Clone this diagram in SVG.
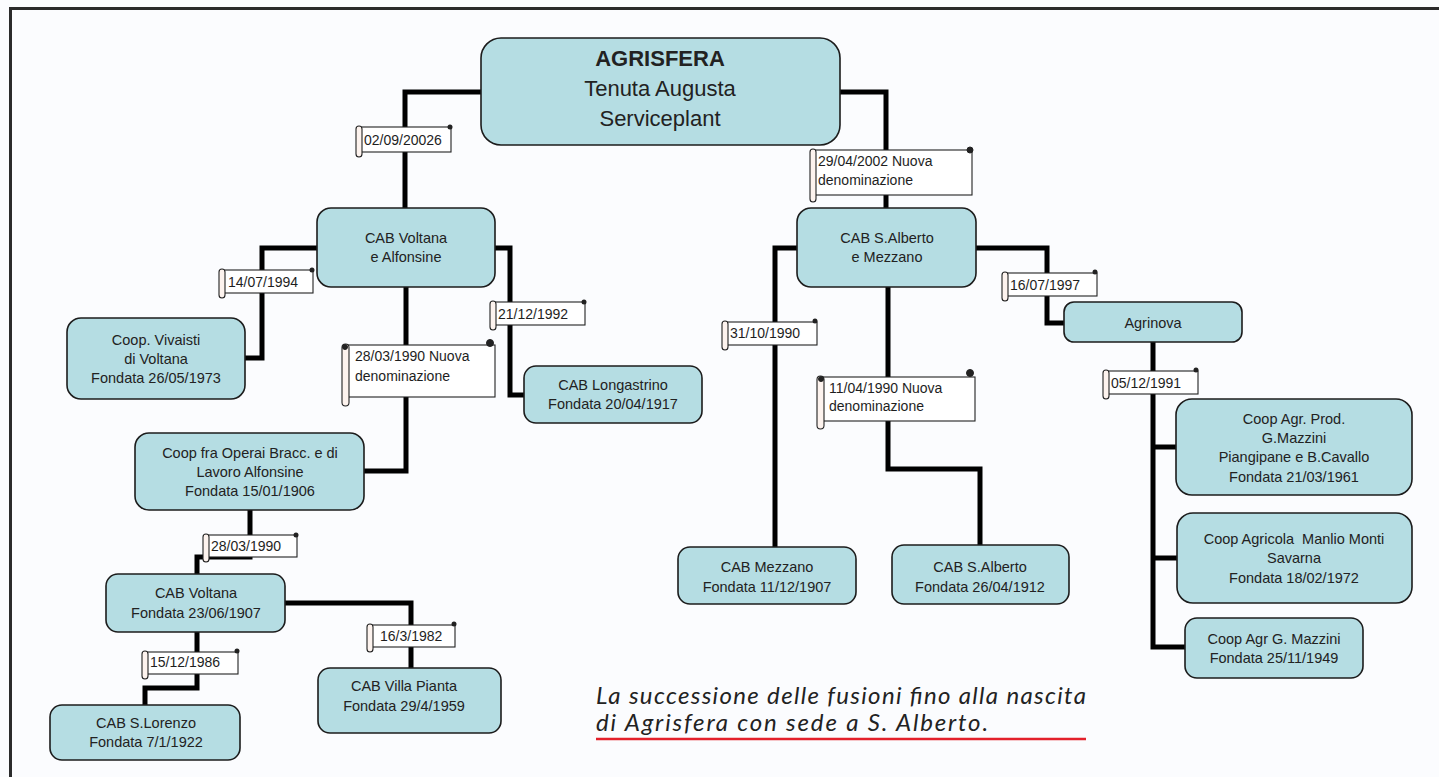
<svg xmlns="http://www.w3.org/2000/svg" width="1439" height="777" viewBox="0 0 1439 777">
<style>
.bg{fill:#fbfcfe}
.frame{stroke:#2b2b2b;stroke-width:3;fill:none}
.node rect{fill:#b5dde3;stroke:#1c1c1c;stroke-width:1.6}
.node text{font-family:"Liberation Sans",Arial,sans-serif;font-size:14.5px;fill:#222;text-anchor:middle}
.big text{font-size:22px}
.conn path{fill:none;stroke:#000;stroke-width:5;stroke-linejoin:miter;stroke-linecap:butt}
.lbl rect.b{fill:#fff;stroke:#222;stroke-width:1.1}
.lbl rect.r{fill:#fdf3ee;stroke:#222;stroke-width:1.1}
.lbl circle{fill:#222}
.lbl text{font-family:"Liberation Sans",Arial,sans-serif;font-size:14px;fill:#1e1e1e}
.cap{font-family:Lato,"Open Sans",sans-serif;font-style:italic;font-size:24px;fill:#222}
</style>
<rect class="bg" x="0" y="0" width="1439" height="777"/>
<path class="frame" d="M10.5,777 V8.5 H1439"/>

<g id="connectors" class="conn">
<path d="M481,92 H405 V208"/>
<path d="M840,92 H886 V208"/>
<path d="M317,248 H262 V358 H245"/>
<path d="M495,248 H510 V395 H524"/>
<path d="M406,287 V471 H364"/>
<path d="M250,510 V557 H197 V574"/>
<path d="M285,603 H411 V668"/>
<path d="M197,632 V688 H145 V705"/>
<path d="M797,248 H775 V547"/>
<path d="M888,287 V469 H980 V545"/>
<path d="M976,248 H1047 V323 H1064"/>
<path d="M1153,342 V647 H1185"/>
<path d="M1153,447 H1176"/>
<path d="M1153,558 H1177"/>
</g>

<g id="labels" class="lbl">
<g id="l1"><rect class="b" x="361" y="127" width="90" height="25"/><rect class="r" x="356" y="126" width="6" height="31" rx="3"/><circle cx="450" cy="127" r="2.5"/><text x="364" y="145">02/09/20026</text></g>
<g id="l2"><rect class="b" x="815" y="150" width="157" height="45"/><rect class="r" x="810" y="149" width="6" height="53" rx="3"/><circle cx="970" cy="150" r="3" fill="none" stroke="#222"/><text x="818" y="166">29/04/2002 Nuova</text><text x="818" y="185">denominazione</text></g>
<g id="l3"><rect class="b" x="224" y="270" width="89" height="23"/><rect class="r" x="219" y="269" width="6" height="29" rx="3"/><circle cx="312" cy="270" r="2.5"/><text x="228" y="287">14/07/1994</text></g>
<g id="l4"><rect class="b" x="495" y="302" width="90" height="23"/><rect class="r" x="490" y="301" width="6" height="29" rx="3"/><circle cx="584" cy="302" r="2.5"/><text x="498" y="319">21/12/1992</text></g>
<g id="l5"><rect class="b" x="347" y="345" width="148" height="52"/><rect class="r" x="342" y="344" width="7" height="62" rx="3.5"/><circle cx="490" cy="343" r="3.5" fill="none" stroke="#222"/><circle cx="345" cy="347" r="2.5" fill="none" stroke="#222"/><text x="355" y="361">28/03/1990 Nuova</text><text x="355" y="381">denominazione</text></g>
<g id="l6"><rect class="b" x="208" y="535" width="89" height="22"/><rect class="r" x="203" y="534" width="6" height="28" rx="3"/><circle cx="296" cy="535" r="2.5"/><text x="211" y="551">28/03/1990</text></g>
<g id="l7"><rect class="b" x="372" y="625" width="83" height="22"/><rect class="r" x="367" y="624" width="6" height="28" rx="3"/><circle cx="454" cy="624" r="2.5"/><text x="380" y="641">16/3/1982</text></g>
<g id="l8"><rect class="b" x="147" y="652" width="91" height="22"/><rect class="r" x="142" y="651" width="6" height="28" rx="3"/><circle cx="237" cy="651" r="2.5"/><text x="150" y="667">15/12/1986</text></g>
<g id="l9"><rect class="b" x="727" y="322" width="90" height="23"/><rect class="r" x="722" y="321" width="6" height="29" rx="3"/><circle cx="815" cy="321" r="2.5"/><text x="730" y="338">31/10/1990</text></g>
<g id="l10"><rect class="b" x="822" y="377" width="153" height="44"/><rect class="r" x="817" y="376" width="7" height="53" rx="3.5"/><circle cx="970" cy="373" r="3.5" fill="none" stroke="#222"/><circle cx="821" cy="379" r="2.5" fill="none" stroke="#222"/><text x="829" y="393">11/04/1990 Nuova</text><text x="829" y="411">denominazione</text></g>
<g id="l11"><rect class="b" x="1007" y="273" width="90" height="23"/><rect class="r" x="1002" y="272" width="6" height="29" rx="3"/><circle cx="1095" cy="272" r="2.5"/><text x="1010" y="290">16/07/1997</text></g>
<g id="l12"><rect class="b" x="1108" y="371" width="90" height="23"/><rect class="r" x="1103" y="370" width="6" height="29" rx="3"/><circle cx="1196" cy="370" r="2.5"/><text x="1111" y="388">05/12/1991</text></g>
</g>

<g id="n0" class="node big"><rect x="481" y="38" width="359" height="107" rx="20"/><text x="660" y="66" font-weight="bold">AGRISFERA</text><text x="660" y="96">Tenuta Augusta</text><text x="660" y="126">Serviceplant</text></g>
<g id="n1" class="node"><rect x="317" y="208" width="178" height="79" rx="14"/><text x="406" y="243">CAB Voltana</text><text x="406" y="262">e Alfonsine</text></g>
<g id="n2" class="node"><rect x="67" y="318" width="178" height="81" rx="14"/><text x="156" y="345">Coop. Vivaisti</text><text x="156" y="364">di Voltana</text><text x="156" y="383">Fondata 26/05/1973</text></g>
<g id="n3" class="node"><rect x="524" y="366" width="178" height="57" rx="12"/><text x="613" y="390">CAB Longastrino</text><text x="613" y="409">Fondata 20/04/1917</text></g>
<g id="n4" class="node"><rect x="135" y="433" width="229" height="77" rx="14"/><text x="250" y="458">Coop fra Operai Bracc. e di</text><text x="250" y="477">Lavoro Alfonsine</text><text x="250" y="496">Fondata 15/01/1906</text></g>
<g id="n5" class="node"><rect x="106" y="574" width="179" height="58" rx="12"/><text x="196" y="598">CAB Voltana</text><text x="196" y="618">Fondata 23/06/1907</text></g>
<g id="n6" class="node"><rect x="318" y="668" width="183" height="65" rx="12"/><text x="404" y="691">CAB Villa Pianta</text><text x="404" y="711">Fondata 29/4/1959</text></g>
<g id="n7" class="node"><rect x="50" y="705" width="190" height="55" rx="12"/><text x="146" y="728">CAB S.Lorenzo</text><text x="146" y="747">Fondata 7/1/1922</text></g>
<g id="n8" class="node"><rect x="797" y="208" width="179" height="79" rx="14"/><text x="887" y="243">CAB S.Alberto</text><text x="887" y="262">e Mezzano</text></g>
<g id="n9" class="node"><rect x="678" y="547" width="178" height="57" rx="12"/><text x="767" y="572">CAB Mezzano</text><text x="767" y="592">Fondata 11/12/1907</text></g>
<g id="n10" class="node"><rect x="892" y="545" width="177" height="59" rx="12"/><text x="980" y="572">CAB S.Alberto</text><text x="980" y="592">Fondata 26/04/1912</text></g>
<g id="n11" class="node"><rect x="1064" y="302" width="178" height="40" rx="10"/><text x="1153" y="328">Agrinova</text></g>
<g id="n12" class="node"><rect x="1176" y="399" width="236" height="96" rx="16"/><text x="1294" y="424">Coop Agr. Prod.</text><text x="1294" y="443">G.Mazzini</text><text x="1294" y="462">Piangipane e B.Cavallo</text><text x="1294" y="482">Fondata 21/03/1961</text></g>
<g id="n13" class="node"><rect x="1177" y="513" width="235" height="90" rx="16"/><text x="1294" y="544" style="white-space:pre">Coop Agricola  Manlio Monti</text><text x="1294" y="563">Savarna</text><text x="1294" y="583">Fondata 18/02/1972</text></g>
<g id="n14" class="node"><rect x="1185" y="618" width="178" height="60" rx="12"/><text x="1274" y="644">Coop Agr G. Mazzini</text><text x="1274" y="663">Fondata 25/11/1949</text></g>

<g id="caption">
<text class="cap" x="596" y="704" textLength="490" lengthAdjust="spacing">La successione delle fusioni fino alla nascita</text>
<text class="cap" x="596" y="731" textLength="392" lengthAdjust="spacing">di Agrisfera con sede a S. Alberto.</text>
<line x1="596" y1="739" x2="1086" y2="739" stroke="#e3202b" stroke-width="2.5"/>
</g>
</svg>
